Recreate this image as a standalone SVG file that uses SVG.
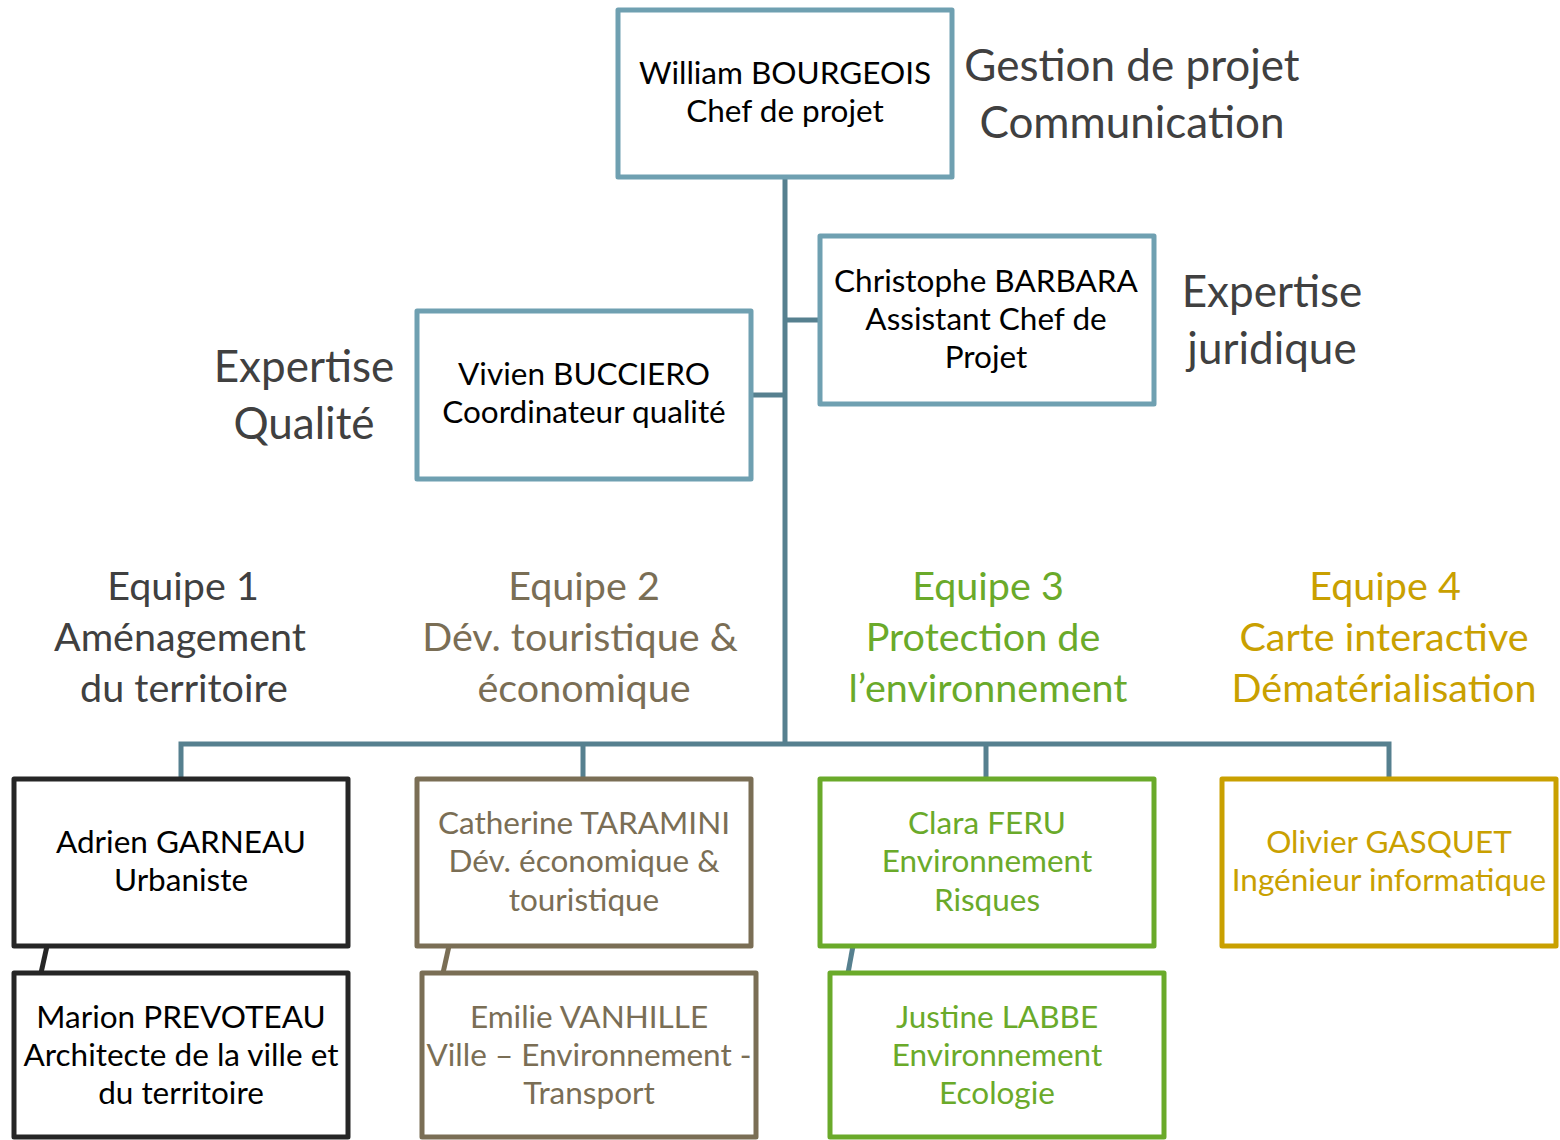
<svg xmlns="http://www.w3.org/2000/svg" width="1560" height="1140" viewBox="0 0 1560 1140">
<style>
text{font-family:Lato,"Liberation Sans",sans-serif;text-anchor:middle}
.n{font-size:31.5px}
.lab{font-size:44px;fill:#404040}
.hd{font-size:39.5px}
.box{fill:#fff;stroke-width:5;stroke-linejoin:round}
.teal{stroke:#6fa0b1}
.blk{stroke:#262626}
.brn{stroke:#7a6e55}
.grn{stroke:#6aaa2a}
.gld{stroke:#c9a000}
.c{stroke:#56808f;stroke-width:5;fill:none}
</style>
<g id="connectors">
<path class="c" d="M785 177V744M785 320H820M751 395H785M181 779V744H1389V779M583 744V779M986 744V779"/>
<path d="M47 946L41 973" stroke="#262626" stroke-width="5"/>
<path d="M449 946L443 973" stroke="#7a6e55" stroke-width="5"/>
<path class="c" d="M853 946L848 973"/>
</g>
<g id="labels">
<text class="lab" x="1132" y="81">Gestion de projet</text>
<text class="lab" x="1132" y="138">Communication</text>
<text class="lab" x="1272" y="307">Expertise</text>
<text class="lab" x="1272" y="364">juridique</text>
<text class="lab" x="304" y="382">Expertise</text>
<text class="lab" x="304" y="439">Qualité</text>
<g class="hd" fill="#404040"><text x="183" y="600">Equipe 1</text><text x="180" y="651">Aménagement</text><text x="184" y="702">du territoire</text></g>
<g class="hd" fill="#7a6e55"><text x="584" y="600">Equipe 2</text><text x="580" y="651">Dév. touristique &amp;</text><text x="584" y="702">économique</text></g>
<g class="hd" fill="#6aaa2a"><text x="988" y="600">Equipe 3</text><text x="983" y="651">Protection de</text><text x="988" y="702">l’environnement</text></g>
<g class="hd" fill="#c9a000"><text x="1385" y="600">Equipe 4</text><text x="1384" y="651">Carte interactive</text><text x="1384" y="702">Dématérialisation</text></g>
</g>
<g id="william"><rect class="box teal" x="618" y="10" width="334" height="167"/><text class="n" x="785" y="84">William BOURGEOIS</text><text class="n" x="785" y="122">Chef de projet</text></g>
<g id="christophe"><rect class="box teal" x="820" y="236" width="334" height="168"/><text class="n" x="986" y="292">Christophe BARBARA</text><text class="n" x="986" y="330">Assistant Chef de</text><text class="n" x="986" y="368">Projet</text></g>
<g id="vivien"><rect class="box teal" x="417" y="311" width="334" height="168"/><text class="n" x="584" y="385">Vivien BUCCIERO</text><text class="n" x="584" y="423">Coordinateur qualité</text></g>
<g id="adrien"><rect class="box blk" x="14" y="779" width="334" height="167"/><text class="n" x="181" y="853">Adrien GARNEAU</text><text class="n" x="181" y="891">Urbaniste</text></g>
<g id="marion"><rect class="box blk" x="14" y="973" width="334" height="164"/><text class="n" x="181" y="1028">Marion PREVOTEAU</text><text class="n" x="181" y="1066">Architecte de la ville et</text><text class="n" x="181" y="1104">du territoire</text></g>
<g id="catherine" fill="#7a6e55"><rect class="box brn" x="417" y="779" width="334" height="167"/><text class="n" x="584" y="834">Catherine TARAMINI</text><text class="n" x="584" y="872">Dév. économique &amp;</text><text class="n" x="584" y="911">touristique</text></g>
<g id="emilie" fill="#7a6e55"><rect class="box brn" x="422" y="973" width="334" height="164"/><text class="n" x="589" y="1028">Emilie VANHILLE</text><text class="n" x="589" y="1066">Ville – Environnement -</text><text class="n" x="589" y="1104">Transport</text></g>
<g id="clara" fill="#6aaa2a"><rect class="box grn" x="820" y="779" width="334" height="167"/><text class="n" x="987" y="834">Clara FERU</text><text class="n" x="987" y="872">Environnement</text><text class="n" x="987" y="911">Risques</text></g>
<g id="justine" fill="#6aaa2a"><rect class="box grn" x="830" y="973" width="334" height="164"/><text class="n" x="997" y="1028">Justine LABBE</text><text class="n" x="997" y="1066">Environnement</text><text class="n" x="997" y="1104">Ecologie</text></g>
<g id="olivier" fill="#c9a000"><rect class="box gld" x="1222" y="779" width="334" height="167"/><text class="n" x="1389" y="853">Olivier GASQUET</text><text class="n" x="1389" y="891">Ingénieur informatique</text></g>
</svg>
